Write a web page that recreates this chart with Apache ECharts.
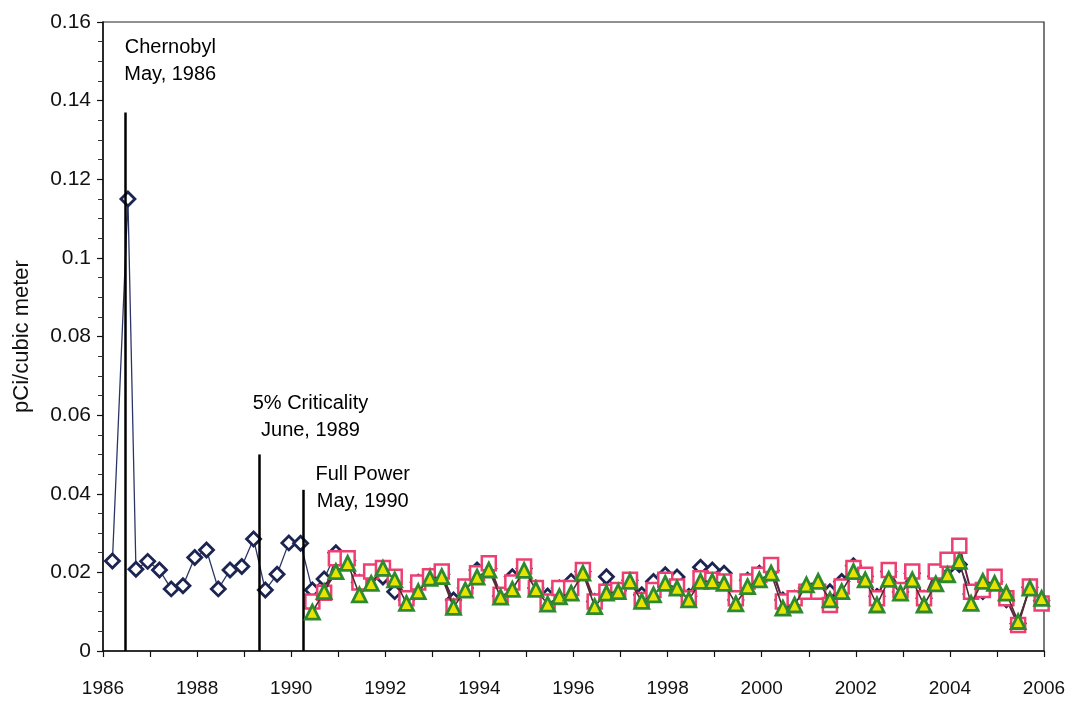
<!DOCTYPE html>
<html>
<head>
<meta charset="utf-8">
<script src="https://cdn.jsdelivr.net/npm/echarts@6/dist/echarts.min.js"></script>
<style>html,body{margin:0;padding:0;background:#fff;}#c{width:1070px;height:701px;}</style>
</head>
<body>
<div id="c"></div>
<script>
// ---- Data ----
const preYears = [1986.2, 1986.53, 1986.7, 1986.95, 1987.2, 1987.45, 1987.7, 1987.95, 1988.2, 1988.45, 1988.7, 1988.95, 1989.2, 1989.45, 1989.7, 1989.95, 1990.2];
const preValues = [0.0229, 0.115, 0.0208, 0.0228, 0.0206, 0.0158, 0.0166, 0.0238, 0.0257, 0.0158, 0.0206, 0.0215, 0.0285, 0.0155, 0.0195, 0.0275, 0.0274];

// quarterly from 1990.45 to 2005.95
const startYear = 1990.45;
const stepYear = 0.25;
const navyValues = [0.0155,0.0183,0.025,0.023,0.0174,0.019,0.0188,0.0151,0.013,0.0175,0.019,0.0195,0.013,0.016,0.0206,0.021,0.014,0.0189,0.021,0.016,0.014,0.016,0.0177,0.0202,0.0126,0.0189,0.0153,0.018,0.0143,0.0177,0.0194,0.0188,0.0139,0.0213,0.0206,0.0198,0.013,0.018,0.0198,0.0205,0.013,0.0134,0.016,0.016,0.0151,0.0177,0.0217,0.019,0.0139,0.0202,0.015,0.0198,0.0134,0.019,0.0211,0.022,0.0145,0.0151,0.0177,0.013,0.007,0.0162,0.0128];
const pinkValues = [0.0126,0.0148,0.0236,0.0236,0.0174,0.0202,0.0211,0.0189,0.0134,0.0174,0.019,0.0202,0.0113,0.0164,0.0198,0.0223,0.0143,0.0174,0.0215,0.016,0.0126,0.016,0.016,0.0206,0.0126,0.0151,0.0155,0.0181,0.013,0.0155,0.0181,0.0164,0.0134,0.0185,0.0181,0.0177,0.0134,0.0177,0.0194,0.0219,0.0126,0.0134,0.0151,0.0151,0.0117,0.0164,0.0211,0.0194,0.0134,0.0206,0.0155,0.0202,0.0134,0.0202,0.0232,0.0268,0.0151,0.0155,0.0189,0.0134,0.0066,0.0164,0.0121];
const greenValues = [0.0099,0.0151,0.0202,0.0223,0.0143,0.0172,0.021,0.0181,0.0121,0.0151,0.0185,0.0189,0.0111,0.0155,0.0188,0.0206,0.0137,0.0157,0.0205,0.0157,0.0119,0.0138,0.0147,0.0198,0.0113,0.0147,0.0151,0.0177,0.0126,0.0143,0.0172,0.016,0.013,0.0177,0.0177,0.0172,0.012,0.0164,0.0181,0.0198,0.0109,0.0117,0.0168,0.0177,0.013,0.0151,0.0202,0.0181,0.0117,0.0182,0.0147,0.0181,0.0117,0.0171,0.0194,0.0228,0.0121,0.0177,0.0172,0.0147,0.0075,0.016,0.0134];

const xTickLabels = ['1986','1988','1990','1992','1994','1996','1998','2000','2002','2004','2006'];
const yTickLabels = ['0','0.02','0.04','0.06','0.08','0.1','0.12','0.14','0.16'];

const events = [
  {name: 'Chernobyl\nMay, 1986', year: 1986.47, top: 0.137},
  {name: '5% Criticality\nJune, 1989', year: 1989.33, top: 0.050},
  {name: 'Full Power\nMay, 1990', year: 1990.25, top: 0.041}
];
const eventLabelAnchors = [[1987.43, 0.1502], [1990.41, 0.0594], [1991.52, 0.0415]];

// ---- Build ----
const quarterYears = navyValues.map((_, i) => +(startYear + i * stepYear).toFixed(3));
const navyData = preYears.map((y, i) => [y, preValues[i]]).concat(quarterYears.map((y, i) => [y, navyValues[i]]));
const pinkData = quarterYears.map((y, i) => [y, pinkValues[i]]);
const greenData = quarterYears.map((y, i) => [y, greenValues[i]]);

const FONT = 'Liberation Sans, Arial, sans-serif';

const chart = echarts.init(document.getElementById('c'), null, {renderer: 'canvas'});
chart.setOption({
  backgroundColor: '#fff',
  animation: false,
  grid: {left: 103, right: 26, top: 22, bottom: 50, show: true, borderColor: '#222', borderWidth: 1.2, backgroundColor: 'transparent'},
  xAxis: {
    type: 'value', min: 1986, max: 2006, interval: 1,
    axisLine: {lineStyle: {color: '#111', width: 1.5}},
    axisTick: {show: true, length: 6, lineStyle: {color: '#111', width: 1.2}},
    splitLine: {show: false},
    axisLabel: {
      color: '#111', fontFamily: FONT, fontSize: 19, margin: 28,
      formatter: v => { const s = String(Math.round(v)); return xTickLabels.indexOf(s) >= 0 ? s : ''; }
    }
  },
  yAxis: {
    type: 'value', min: 0, max: 0.16, interval: 0.02,
    name: 'pCi/cubic meter', nameLocation: 'middle', nameGap: 70, nameRotate: 90,
    nameTextStyle: {color: '#111', fontFamily: FONT, fontSize: 22},
    axisLine: {show: true, lineStyle: {color: '#111', width: 1.5}},
    axisTick: {show: true, length: 6, lineStyle: {color: '#111', width: 1.2}},
    minorTick: {show: true, splitNumber: 4, length: 5, lineStyle: {color: '#333', width: 1}},
    splitLine: {show: false},
    axisLabel: {
      color: '#111', fontFamily: FONT, fontSize: 21, margin: 12,
      formatter: (v) => yTickLabels[Math.round(v / 0.02)]
    }
  },
  series: [
    {
      name: 'events', type: 'line', data: [], silent: true,
      markLine: {
        symbol: ['none', 'none'], silent: true,
        lineStyle: {color: '#000', width: 2.5, type: 'solid'},
        label: {show: false},
        data: events.map(e => [{coord: [e.year, 0]}, {coord: [e.year, e.top]}])
      },
      markPoint: {
        silent: true, symbol: 'circle', symbolSize: 0,
        label: {
          show: true, position: 'inside', formatter: p => p.name,
          color: '#000', opacity: 1, fontFamily: FONT, fontSize: 20, lineHeight: 27, align: 'center', verticalAlign: 'middle'
        },
        data: events.map((e, i) => ({name: e.name, coord: eventLabelAnchors[i], itemStyle: {opacity: 1, color: 'transparent'}}))
      }
    },
    {
      name: 'Station A', type: 'line', data: navyData, z: 3,
      symbol: 'diamond', symbolSize: 14,
      lineStyle: {color: '#2a3566', width: 1.3},
      itemStyle: {color: '#fff', borderColor: '#1c2452', borderWidth: 2.8}
    },
    {
      name: 'Station B', type: 'line', data: pinkData, z: 4,
      symbol: 'rect', symbolSize: 14,
      lineStyle: {color: '#6a2040', width: 2},
      itemStyle: {color: '#fff', borderColor: '#ee3f72', borderWidth: 2.5}
    },
    {
      name: 'Station C', type: 'line', data: greenData, z: 5,
      symbol: 'triangle', symbolSize: 14,
      lineStyle: {color: '#4a3030', width: 1.6},
      itemStyle: {color: '#e8e400', borderColor: '#2f8a2f', borderWidth: 2.8}
    }
  ]
});
</script>
</body>
</html>
